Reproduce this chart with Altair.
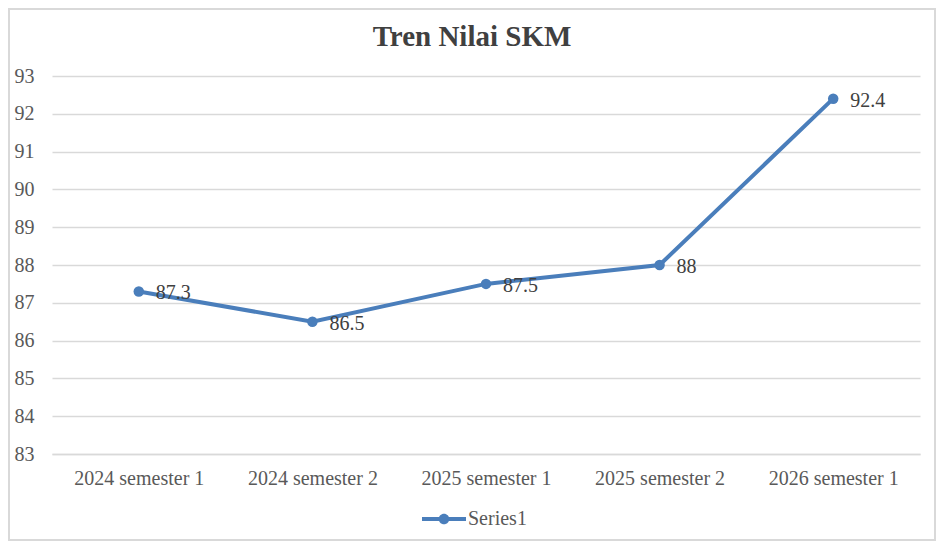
import altair as alt
import pandas as pd

categories = ["2024 semester 1", "2024 semester 2", "2025 semester 1", "2025 semester 2", "2026 semester 1"]
values = [87.3, 86.5, 87.5, 88, 92.4]
series_name = "Series1"
chart_title = "Tren Nilai SKM"

df = pd.DataFrame({"periode": categories, "nilai": values, "series": [series_name] * len(values)})
one_df = pd.DataFrame({"k": [0]})

W, H = 868, 378
PL, PT, PR, PB = 44, 68, 16, 87
COLOR = "#4a7ebb"
FONT = "Liberation Serif"

x_enc = alt.X("periode:N", sort=None, title=None,
              axis=alt.Axis(labelAngle=0, ticks=False, domainColor="#d9d9d9", domainWidth=1.5,
                            labelPadding=14, labelFontSize=20, labelColor="#595959", labelFont=FONT))
y_enc = alt.Y("nilai:Q", title=None,
              scale=alt.Scale(domain=[83, 93], nice=False, zero=False),
              axis=alt.Axis(values=list(range(83, 94)), ticks=False, domain=False,
                            gridColor="#d9d9d9", gridWidth=1.5, labelPadding=18,
                            labelFontSize=20, labelColor="#595959", labelFont=FONT))

base = alt.Chart(df)

line = base.mark_line(color=COLOR, strokeWidth=4).encode(x=x_enc, y=y_enc)

legend_path = "M-1,-0.09 L1,-0.09 L1,0.09 L-1,0.09 Z M0.24,0 A0.24,0.24 0 1,1 -0.24,0 A0.24,0.24 0 1,1 0.24,0 Z"

points = base.mark_point(filled=True, size=110, opacity=1).encode(
    x=x_enc, y=y_enc,
    color=alt.Color("series:N", scale=alt.Scale(range=[COLOR]), title=None,
                    legend=alt.Legend(orient="none", legendX=370, legendY=421,
                                      symbolType=legend_path, symbolSize=1936,
                                      symbolStrokeWidth=0, labelFont=FONT, labelFontSize=20,
                                      labelColor="#595959", labelOffset=2)))

labels = base.mark_text(align="left", baseline="middle", dx=17, dy=2, fontSize=20,
                        font=FONT, color="#404040").encode(
    x=x_enc, y=y_enc, text=alt.Text("nilai:Q"))

frame = alt.Chart(one_df).mark_rect(fill=None, stroke="#d9d9d9", strokeWidth=2).encode(
    x=alt.value(-PL + 1), x2=alt.value(W + PR - 1),
    y=alt.value(-PT + 1), y2=alt.value(H + PB - 1))

title = alt.Chart(one_df).mark_text(text=chart_title, font=FONT, fontSize=29, fontWeight="bold",
                                    color="#404040", align="center", baseline="middle").encode(
    x=alt.value(W / 2 - 14), y=alt.value(-39))

chart = alt.layer(frame, line, points, labels, title).properties(
    width=W, height=H,
    background="white",
    autosize=alt.AutoSizeParams(type="none"),
    padding={"left": PL, "top": PT, "right": PR, "bottom": PB},
).configure_view(stroke="transparent", strokeWidth=0)

chart.save("out.html", embed_options={"renderer": "svg", "actions": False})
